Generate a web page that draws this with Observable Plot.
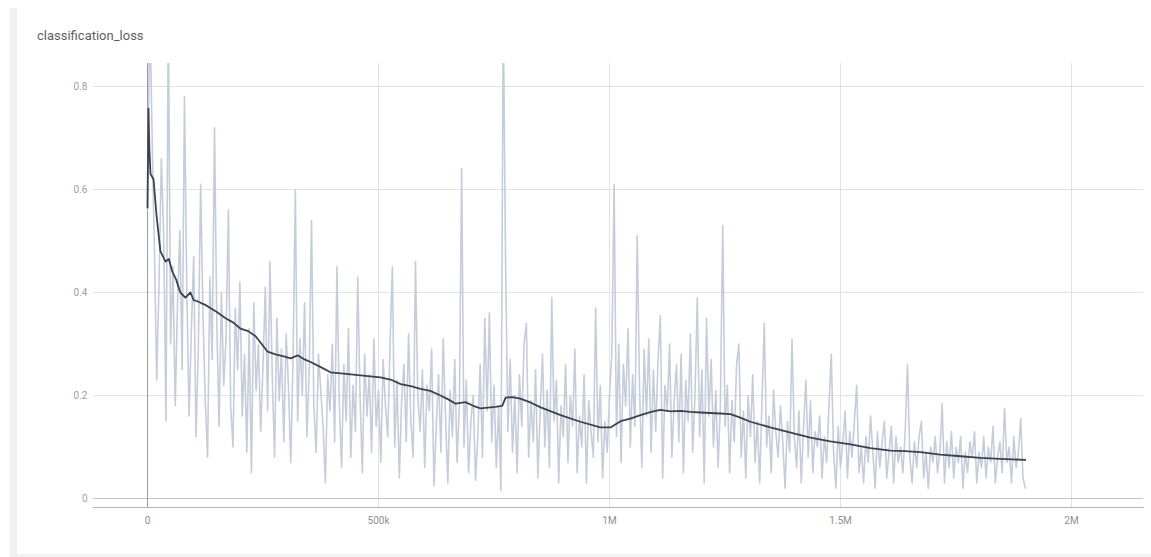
<!DOCTYPE html>
<html>
<head>
<meta charset="utf-8">
<script src="https://cdn.jsdelivr.net/npm/d3@7"></script>
<script src="https://cdn.jsdelivr.net/npm/@observablehq/plot@0.6"></script>
<style>
  html, body { margin: 0; padding: 0; background: #fff; }
  #card { position: relative; width: 1151px; height: 557px; overflow: hidden; font-family: Roboto, "Noto Sans", sans-serif; }
  #edge { position: absolute; left: 10px; top: 8px; width: 7px; bottom: 0; background: #f1f1f1; }
  #foot { position: absolute; left: 17px; right: 0; top: 554px; height: 3px; background: #f3f3f3; }
  #title { position: absolute; left: 37px; top: 29px; font-size: 13px; line-height: 1; color: #5f5f5f; }
  #chart { position: absolute; left: 0; top: 0; }
</style>
</head>
<body>
<div id="card">
  <div id="edge"></div>
  <div id="foot"></div>
  <div id="chart"></div>
  <div id="title">classification_loss</div>
</div>
<script>
// Raw loss, one sample every 5k steps from 0 to 1.9M.
const stepSize = 5000;
const rawLoss = [
  0.56, 0.95, 0.70, 0.48, 0.23, 0.42, 0.66, 0.51, 0.15, 0.95,
  0.30, 0.45, 0.18, 0.38, 0.52, 0.25, 0.78, 0.41, 0.16, 0.33,
  0.47, 0.12, 0.29, 0.61, 0.36, 0.19, 0.08, 0.43, 0.27, 0.72,
  0.34, 0.14, 0.40, 0.22, 0.31, 0.56, 0.18, 0.10, 0.37, 0.25,
  0.42, 0.16, 0.28, 0.09, 0.33, 0.05, 0.38, 0.21, 0.30, 0.13,
  0.26, 0.41, 0.17, 0.46, 0.24, 0.08, 0.35, 0.19, 0.29, 0.11,
  0.32, 0.22, 0.07, 0.27, 0.60, 0.15, 0.31, 0.20, 0.38, 0.12,
  0.25, 0.54, 0.18, 0.09, 0.28, 0.21, 0.14, 0.03, 0.24, 0.17,
  0.30, 0.11, 0.45, 0.19, 0.06, 0.26, 0.15, 0.33, 0.08, 0.22,
  0.13, 0.43, 0.20, 0.05, 0.28, 0.16, 0.24, 0.09, 0.31, 0.14,
  0.21, 0.07, 0.27, 0.18, 0.12, 0.30, 0.45, 0.10, 0.23, 0.04,
  0.19, 0.26, 0.11, 0.32, 0.15, 0.08, 0.46, 0.20, 0.13, 0.25,
  0.06, 0.22, 0.17, 0.29, 0.025, 0.14, 0.24, 0.09, 0.31, 0.16,
  0.03, 0.21, 0.12, 0.27, 0.07, 0.18, 0.64, 0.10, 0.23, 0.05,
  0.15, 0.20, 0.035, 0.12, 0.26, 0.08, 0.35, 0.17, 0.36, 0.11,
  0.22, 0.06, 0.18, 0.015, 0.95, 0.46, 0.13, 0.27, 0.09, 0.20,
  0.05, 0.24, 0.14, 0.30, 0.34, 0.08, 0.19, 0.11, 0.25, 0.04,
  0.17, 0.28, 0.10, 0.21, 0.06, 0.39, 0.15, 0.23, 0.03, 0.18,
  0.12, 0.26, 0.07, 0.20, 0.14, 0.29, 0.05, 0.16, 0.10, 0.24,
  0.03, 0.19, 0.13, 0.08, 0.37, 0.11, 0.22, 0.04, 0.15, 0.09,
  0.20, 0.28, 0.61, 0.12, 0.30, 0.07, 0.26, 0.18, 0.33, 0.10,
  0.24, 0.14, 0.51, 0.21, 0.06, 0.29, 0.16, 0.31, 0.09, 0.25,
  0.13, 0.27, 0.355, 0.04, 0.22, 0.17, 0.30, 0.08, 0.19, 0.26,
  0.11, 0.28, 0.05, 0.23, 0.15, 0.32, 0.09, 0.20, 0.39, 0.12,
  0.25, 0.03, 0.35, 0.16, 0.27, 0.10, 0.21, 0.06, 0.18, 0.53,
  0.14, 0.22, 0.05, 0.19, 0.11, 0.26, 0.30, 0.08, 0.17, 0.04,
  0.20, 0.12, 0.24, 0.07, 0.15, 0.03, 0.19, 0.34, 0.10, 0.16,
  0.05, 0.21, 0.13, 0.08, 0.18, 0.11, 0.02, 0.15, 0.09, 0.31,
  0.12, 0.06, 0.17, 0.03, 0.14, 0.23, 0.08, 0.19, 0.05, 0.13,
  0.10, 0.16, 0.04, 0.12, 0.07, 0.18, 0.28, 0.09, 0.02, 0.14,
  0.06, 0.11, 0.17, 0.04, 0.13, 0.08, 0.15, 0.22, 0.05, 0.10,
  0.03, 0.12, 0.07, 0.16, 0.09, 0.02, 0.13, 0.06, 0.11, 0.15,
  0.04, 0.09, 0.14, 0.03, 0.12, 0.07, 0.10, 0.05, 0.13, 0.26,
  0.08, 0.03, 0.11, 0.06, 0.12, 0.15, 0.04, 0.09, 0.02, 0.10,
  0.07, 0.12, 0.05, 0.09, 0.184, 0.03, 0.11, 0.06, 0.13, 0.04,
  0.10, 0.07, 0.12, 0.02, 0.09, 0.05, 0.11, 0.08, 0.13, 0.03,
  0.09, 0.06, 0.12, 0.04, 0.10, 0.07, 0.14, 0.03, 0.08, 0.11,
  0.05, 0.175, 0.07, 0.10, 0.03, 0.12, 0.06, 0.09, 0.155, 0.04,
  0.02
];

// Smoothed curve: training step and smoothed loss.
const smoothSteps = [
  0, 2000, 4000, 6500, 13000, 19500, 28000, 39000, 46000, 54000, 62000, 71000,
  82000, 93000, 100000, 108000, 115000, 125000, 136000, 150000, 169000, 185000, 201000, 218000, 234000, 247000, 260000, 277000,
  295000, 310000, 325000, 340000, 353000, 375000, 396000, 430000, 461000, 504000, 526000, 548000, 570000, 591000, 612000, 634000, 650000, 667000,
  688000, 705000, 721000, 753000, 768000, 775000, 790000, 807000, 830000, 851000, 894000, 937000, 980000,
  1002000, 1024000, 1045000, 1067000, 1090000, 1110000, 1132000, 1154000, 1175000, 1197000, 1218000, 1240000, 1262000, 1283000, 1305000, 1348000,
  1392000, 1435000, 1478000, 1522000, 1565000, 1608000, 1640000, 1673000, 1716000, 1760000, 1803000,
  1846000, 1900000
];
const smoothLoss = [
  0.565, 0.757, 0.68, 0.63, 0.62, 0.55, 0.48, 0.46, 0.465, 0.44, 0.425, 0.40,
  0.39, 0.40, 0.385, 0.383, 0.38, 0.376, 0.37, 0.362, 0.35, 0.342, 0.33, 0.325, 0.315, 0.30, 0.285, 0.28,
  0.276, 0.272, 0.278, 0.27, 0.265, 0.255, 0.245, 0.242, 0.239, 0.235, 0.231, 0.222, 0.218, 0.213, 0.209, 0.20, 0.193, 0.184,
  0.187, 0.18, 0.175, 0.178, 0.18, 0.196, 0.197, 0.194, 0.186, 0.177, 0.162, 0.149, 0.138,
  0.138, 0.150, 0.155, 0.162, 0.168, 0.172, 0.169, 0.170, 0.168, 0.167, 0.166, 0.165, 0.164, 0.157, 0.149, 0.138,
  0.128, 0.118, 0.111, 0.105, 0.098, 0.093, 0.092, 0.090, 0.085, 0.082, 0.079,
  0.077, 0.075
];

// Axis ticks and their labels.
const xTicks = [0, 500000, 1000000, 1500000, 2000000];
const xTickLabels = ["0", "500k", "1M", "1.5M", "2M"];
const yTicks = [0, 0.2, 0.4, 0.6, 0.8];
const yTickLabels = ["0", "0.2", "0.4", "0.6", "0.8"];

const raw = rawLoss.map((v, i) => ({step: i * stepSize, loss: v}));
const smooth = smoothSteps.map((s, i) => ({step: s, loss: smoothLoss[i]}));

const chart = Plot.plot({
  width: 1151,
  height: 557,
  marginLeft: 93,
  marginRight: 8,
  marginTop: 63,
  marginBottom: 50,
  style: {fontFamily: "Roboto, 'Noto Sans', sans-serif", fontSize: "10px", background: "transparent", overflow: "visible"},
  x: {domain: [-116900, 2155800]},
  y: {domain: [-0.0175, 0.8447]},
  marks: [
    Plot.gridY(yTicks.filter(t => t !== 0), {stroke: "#e2e2e2", strokeOpacity: 1}),
    Plot.gridX(xTicks.filter(t => t !== 0), {stroke: "#e2e2e2", strokeOpacity: 1}),
    Plot.ruleY([0], {stroke: "#c4c4c4"}),
    Plot.ruleX([0], {stroke: "#9a9a9a"}),
    Plot.frame({anchor: "bottom", stroke: "#b4b4b4"}),
    Plot.line(raw, {x: "step", y: "loss", stroke: "#c6ccda", strokeWidth: 1.6, clip: true}),
    Plot.line(smooth, {x: "step", y: "loss", stroke: "#3a4250", strokeWidth: 1.8, clip: true}),
    Plot.axisX(xTicks, {
      tickSize: 0, tickPadding: 9, fill: "#8f8f8f",
      tickFormat: (d) => xTickLabels[xTicks.indexOf(d)], label: null
    }),
    Plot.axisY(yTicks, {
      tickSize: 0, tickPadding: 6, fill: "#a0a0a0",
      tickFormat: (d) => yTickLabels[yTicks.indexOf(d)], label: null
    })
  ]
});
document.getElementById("chart").appendChild(chart);
</script>
</body>
</html>
